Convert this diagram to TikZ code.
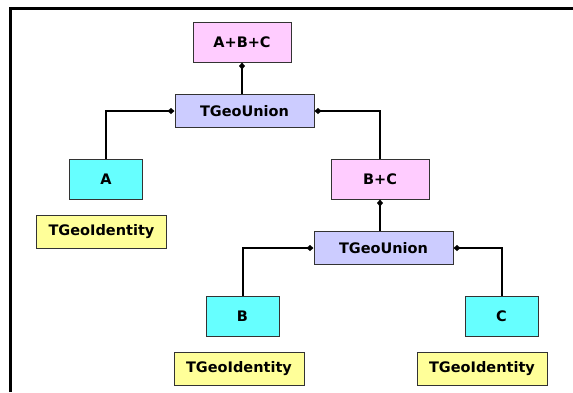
\documentclass[tikz,border=0pt]{standalone}
\usepackage{fontspec}
\setmainfont{DejaVu Sans}
\usetikzlibrary{arrows.meta}
\definecolor{pinkf}{HTML}{FFCCFF}
\definecolor{lavf}{HTML}{CCCCFF}
\definecolor{cyanf}{HTML}{66FFFF}
\definecolor{yelf}{HTML}{FFFF99}
\definecolor{edgec}{HTML}{333333}
\begin{document}
\begin{tikzpicture}[x=1pt,y=-1pt,
  box/.style={draw=edgec,line width=1pt,inner sep=0pt,font=\bfseries\fontsize{14.5}{16}\selectfont},
  sumbox/.style={box,fill=pinkf,minimum width=98pt,minimum height=40pt},
  unionbox/.style={box,fill=lavf,minimum width=139pt,minimum height=33pt},
  leafbox/.style={box,fill=cyanf,minimum width=73pt,minimum height=40pt},
  idbox/.style={box,fill=yelf,minimum width=130pt,minimum height=33pt},
  link/.style={line width=2pt,{Diamond[length=7pt,width=6pt]}-}]
\useasboundingbox (0,0) rectangle (573,392);
\fill[white] (0,0) rectangle (573,392);
\draw[line width=3pt] (10.5,392) -- (10.5,8.5) -- (573,8.5);
\node[sumbox] (abc) at (242,42) {A+B+C};
\node[unionbox] (u1) at (244.5,111) {TGeoUnion};
\node[leafbox] (A) at (106,179) {A};
\node[idbox] (idA) at (101.5,231.5) {TGeoIdentity};
\node[sumbox] (bc) at (380,179) {B+C};
\node[unionbox] (u2) at (383.5,248) {TGeoUnion};
\node[leafbox] (B) at (242.5,316) {B};
\node[leafbox] (C) at (501.5,316) {C};
\node[idbox] (idB) at (239,368.5) {TGeoIdentity};
\node[idbox] (idC) at (482,368.5) {TGeoIdentity};
\draw[link] (abc.south) -- (abc.south |- u1.north);
\draw[link] (u1.west) -| (A.north);
\draw[link] (u1.east) -| (bc.north);
\draw[link] (bc.south) -- (bc.south |- u2.north);
\draw[link] (u2.west) -| (B.north);
\draw[link] (u2.east) -| (C.north);
\end{tikzpicture}
\end{document}
